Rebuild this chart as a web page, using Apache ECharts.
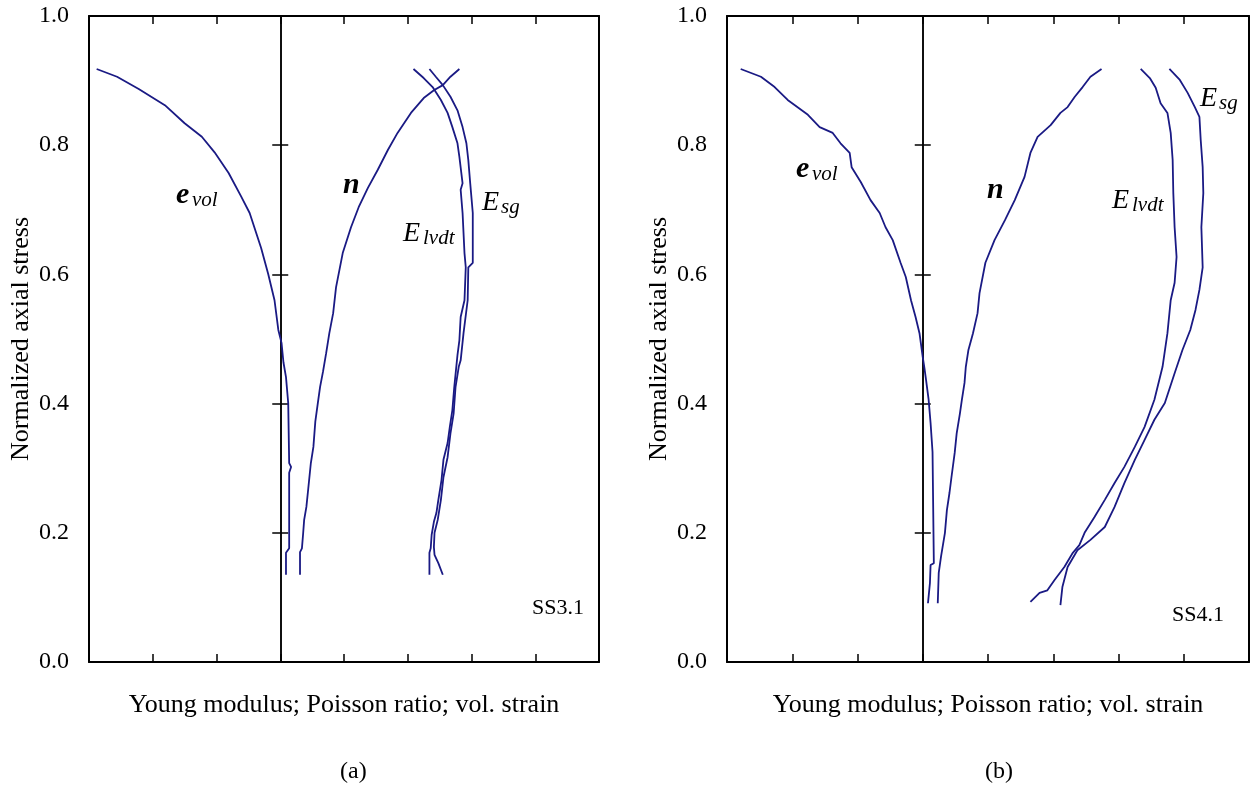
<!DOCTYPE html>
<html>
<head>
<meta charset="utf-8">
<script src="https://cdn.jsdelivr.net/npm/echarts@6/dist/echarts.min.js"></script>
<style>
  html, body { margin: 0; padding: 0; background: #fff; }
  #chart { width: 1252px; height: 794px; }
</style>
</head>
<body>
<div id="chart"></div>
<script>
// panel (a) SS3.1 : [x, normalized axial stress]
const evolA = [[-2.88,0.918],[-2.56,0.906],[-2.22,0.887],[-1.81,0.862],[-1.5,0.834],[-1.23,0.813],[-1.03,0.789],[-0.81,0.757],[-0.61,0.72],[-0.48,0.695],[-0.3,0.641],[-0.19,0.601],[-0.09,0.56],[-0.03,0.514],[0.02,0.494],[0.05,0.464],[0.09,0.441],[0.125,0.401],[0.14,0.308],[0.17,0.302],[0.14,0.293],[0.14,0.176],[0.09,0.169],[0.09,0.135]]
const nuA = [[0.31,0.135],[0.31,0.17],[0.34,0.176],[0.36,0.2],[0.375,0.22],[0.41,0.24],[0.44,0.269],[0.48,0.308],[0.52,0.333],[0.55,0.372],[0.59,0.401],[0.625,0.426],[0.67,0.449],[0.72,0.478],[0.77,0.509],[0.83,0.54],[0.875,0.58],[0.98,0.633],[1.11,0.673],[1.23,0.704],[1.375,0.734],[1.53,0.762],[1.69,0.793],[1.84,0.819],[2.05,0.85],[2.25,0.873],[2.41,0.885],[2.55,0.893],[2.67,0.906],[2.81,0.918]]
const elvdtA = [[2.09,0.918],[2.25,0.904],[2.39,0.89],[2.52,0.87],[2.625,0.85],[2.7,0.828],[2.78,0.803],[2.81,0.782],[2.86,0.741],[2.83,0.731],[2.86,0.695],[2.89,0.633],[2.91,0.611],[2.89,0.56],[2.83,0.534],[2.81,0.498],[2.78,0.475],[2.73,0.426],[2.7,0.39],[2.66,0.364],[2.625,0.339],[2.56,0.313],[2.53,0.282],[2.48,0.251],[2.45,0.231],[2.41,0.217],[2.375,0.197],[2.36,0.176],[2.34,0.169],[2.34,0.135]]
const esgA = [[2.34,0.918],[2.44,0.906],[2.55,0.893],[2.67,0.875],[2.78,0.854],[2.86,0.828],[2.92,0.803],[2.95,0.777],[2.98,0.741],[3.02,0.695],[3.02,0.633],[3.02,0.618],[2.95,0.611],[2.94,0.56],[2.875,0.509],[2.83,0.467],[2.8,0.457],[2.75,0.426],[2.72,0.385],[2.67,0.354],[2.625,0.317],[2.56,0.286],[2.52,0.251],[2.47,0.22],[2.42,0.2],[2.41,0.178],[2.42,0.166],[2.48,0.153],[2.55,0.135]]

// panel (b) SS4.1
const evolB = [[-2.79,0.918],[-2.48,0.906],[-2.27,0.89],[-2.07,0.87],[-1.76,0.847],[-1.58,0.828],[-1.38,0.819],[-1.26,0.803],[-1.12,0.788],[-1.09,0.766],[-0.95,0.743],[-0.8,0.715],[-0.66,0.695],[-0.57,0.673],[-0.46,0.653],[-0.34,0.618],[-0.26,0.596],[-0.18,0.56],[-0.11,0.534],[-0.05,0.509],[0,0.472],[0.03,0.452],[0.05,0.437],[0.09,0.406],[0.12,0.37],[0.15,0.325],[0.17,0.153],[0.12,0.15],[0.11,0.122],[0.08,0.091]]
const nuB = [[0.23,0.091],[0.245,0.138],[0.28,0.163],[0.34,0.2],[0.37,0.235],[0.41,0.262],[0.44,0.286],[0.49,0.324],[0.52,0.354],[0.57,0.385],[0.6,0.406],[0.64,0.432],[0.66,0.457],[0.7,0.483],[0.77,0.509],[0.84,0.54],[0.87,0.571],[0.96,0.618],[1.1,0.653],[1.26,0.684],[1.41,0.715],[1.56,0.751],[1.65,0.788],[1.76,0.813],[1.96,0.831],[2.11,0.85],[2.22,0.859],[2.33,0.875],[2.45,0.89],[2.57,0.906],[2.74,0.918]]
const elvdtB = [[3.34,0.918],[3.48,0.904],[3.57,0.889],[3.645,0.865],[3.75,0.85],[3.8,0.819],[3.83,0.777],[3.84,0.726],[3.86,0.673],[3.89,0.627],[3.86,0.587],[3.8,0.56],[3.75,0.509],[3.675,0.457],[3.55,0.406],[3.4,0.364],[3.25,0.333],[3.09,0.302],[2.94,0.277],[2.79,0.251],[2.63,0.224],[2.48,0.2],[2.4,0.181],[2.3,0.169],[2.17,0.147],[2.02,0.127],[1.91,0.111],[1.79,0.107],[1.65,0.093]]
const esgB = [[3.78,0.918],[3.94,0.901],[4.06,0.881],[4.17,0.859],[4.24,0.844],[4.26,0.808],[4.29,0.766],[4.3,0.726],[4.27,0.673],[4.29,0.611],[4.24,0.576],[4.18,0.545],[4.1,0.514],[3.98,0.483],[3.86,0.447],[3.71,0.401],[3.55,0.375],[3.4,0.344],[3.25,0.313],[3.09,0.277],[2.94,0.24],[2.79,0.209],[2.57,0.189],[2.37,0.173],[2.22,0.147],[2.14,0.116],[2.11,0.088]]

const yMin = 0, yMax = 1, yStep = 0.2
const xMin = -3, xMax = 5, xStep = 1

const FONT = 'Liberation Serif'
const LINE = '#1a1a84'

const chart = echarts.init(document.getElementById('chart'))

// axes for one panel; gi = grid index
function xAxes(gi) {
  const base = {
    gridIndex: gi, type: 'value', min: xMin, max: xMax, interval: xStep,
    axisLine: { onZero: false, lineStyle: { color: '#000', width: 2 } },
    axisTick: { show: true, inside: true, length: 8, lineStyle: { color: '#000', width: 1.5 } },
    axisLabel: { show: false },
    splitLine: { show: false }
  }
  return [
    Object.assign({}, base, {
      position: 'bottom',
      name: 'Young modulus; Poisson ratio; vol. strain',
      nameLocation: 'middle', nameGap: 30,
      nameTextStyle: { fontFamily: FONT, fontSize: 26, color: '#000' }
    }),
    Object.assign({}, base, { position: 'top' })
  ]
}

function yAxes(gi, zeroIdx) {
  const base = {
    gridIndex: gi, type: 'value', min: yMin, max: yMax, interval: yStep,
    splitLine: { show: false }, axisLabel: { show: false }
  }
  return [
    Object.assign({}, base, {
      position: 'left',
      axisLine: { onZero: false, lineStyle: { color: '#000', width: 2 } },
      axisTick: { show: false },
      axisLabel: {
        show: true, fontFamily: FONT, fontSize: 24, color: '#000', margin: 20,
        formatter: v => v.toFixed(1)
      },
      name: 'Normalized axial stress', nameLocation: 'middle', nameGap: 55,
      nameTextStyle: { fontFamily: FONT, fontSize: 26, color: '#000' }
    }),
    Object.assign({}, base, {
      position: 'right',
      axisLine: { onZero: false, lineStyle: { color: '#000', width: 2 } },
      axisTick: { show: false }
    }),
    // vertical line at x = 0 with cross ticks
    Object.assign({}, base, {
      position: 'left',
      axisLine: { onZero: true, onZeroAxisIndex: zeroIdx, lineStyle: { color: '#000', width: 1.5 } },
      axisTick: { show: true, inside: true, length: 8, lineStyle: { color: '#000', width: 1.5 } }
    }),
    Object.assign({}, base, {
      position: 'left',
      axisLine: { onZero: true, onZeroAxisIndex: zeroIdx, lineStyle: { color: '#000', width: 1.5 } },
      axisTick: { show: true, inside: false, length: 8, lineStyle: { color: '#000', width: 1.5 } }
    })
  ]
}

function curve(data, xi, yi) {
  return {
    type: 'line', data: data, xAxisIndex: xi, yAxisIndex: yi,
    showSymbol: false, symbol: 'none', smooth: false, silent: true,
    lineStyle: { color: LINE, width: 1.8 }
  }
}

function txt(x, y, s, size, style, weight) {
  return {
    type: 'text', left: x, top: y, silent: true,
    style: {
      text: s, fontFamily: FONT, fontSize: size,
      fontStyle: style || 'normal', fontWeight: weight || 'normal', fill: '#000'
    }
  }
}

const option = {
  animation: false,
  backgroundColor: '#fff',
  grid: [
    { left: 89, top: 16, width: 510, height: 646, containLabel: false, outerBoundsMode: 'none' },
    { left: 727, top: 16, width: 522, height: 646, containLabel: false, outerBoundsMode: 'none' }
  ],
  xAxis: [...xAxes(0), ...xAxes(1)],
  yAxis: [...yAxes(0, 0), ...yAxes(1, 2)],
  series: [
    curve(evolA, 0, 0), curve(nuA, 0, 0), curve(elvdtA, 0, 0), curve(esgA, 0, 0),
    curve(evolB, 2, 4), curve(nuB, 2, 4), curve(elvdtB, 2, 4), curve(esgB, 2, 4)
  ],
  graphic: [
    // panel (a)
    txt(176, 180, 'e', 30, 'italic', 'bold'),
    txt(192, 190, 'vol', 21, 'italic'),
    txt(343, 170, 'n', 30, 'italic', 'bold'),
    txt(403, 220, 'E', 28, 'italic'),
    txt(423, 228, 'lvdt', 21, 'italic'),
    txt(482, 189, 'E', 28, 'italic'),
    txt(501, 197, 'sg', 21, 'italic'),
    txt(532, 597, 'SS3.1', 22),
    txt(340, 760, '(a)', 24),
    // panel (b)
    txt(796, 154, 'e', 30, 'italic', 'bold'),
    txt(812, 164, 'vol', 21, 'italic'),
    txt(987, 175, 'n', 30, 'italic', 'bold'),
    txt(1112, 187, 'E', 28, 'italic'),
    txt(1132, 195, 'lvdt', 21, 'italic'),
    txt(1200, 85, 'E', 28, 'italic'),
    txt(1219, 93, 'sg', 21, 'italic'),
    txt(1172, 604, 'SS4.1', 22),
    txt(985, 760, '(b)', 24)
  ]
}

chart.setOption(option)
window.addEventListener('resize', () => chart.resize())
</script>
</body>
</html>
